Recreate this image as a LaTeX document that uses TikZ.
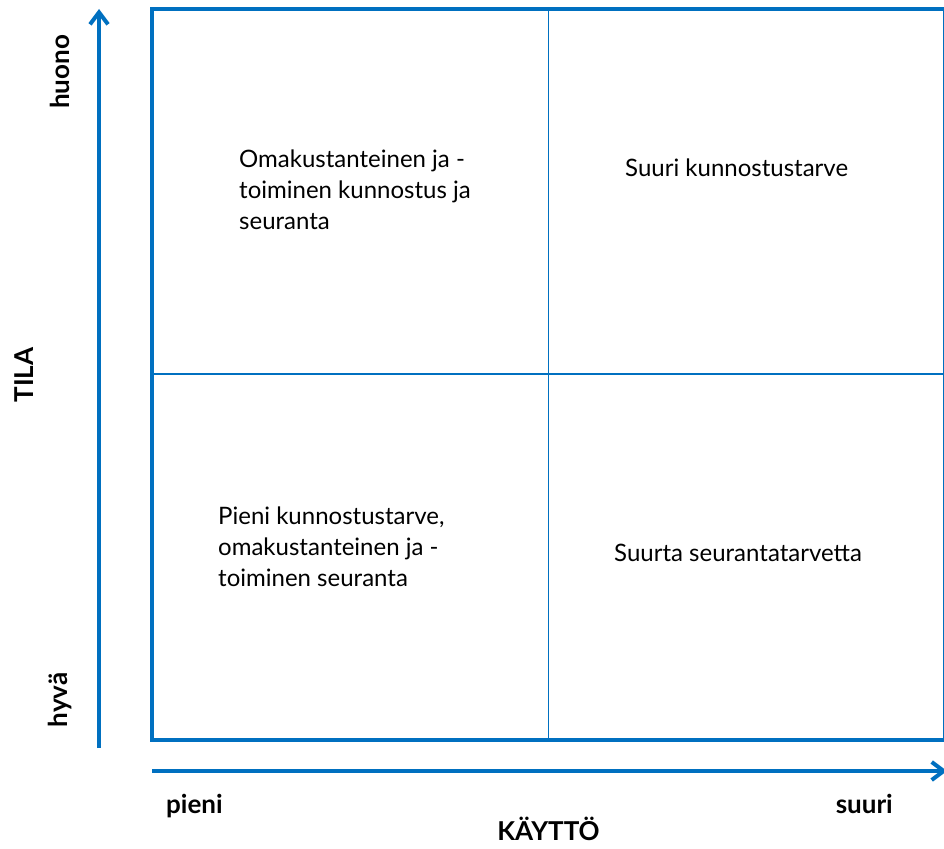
\documentclass[tikz,border=0pt]{standalone}
\usepackage{fontspec}
\setmainfont{Lato}
\usetikzlibrary{arrows.meta}
\definecolor{axisblue}{RGB}{0,112,192}
\begin{document}
\begin{tikzpicture}[x=1pt,y=-1pt,
  frame/.style={draw=axisblue, line width=4pt},
  divider/.style={draw=axisblue, line width=1.5pt},
  axis/.style={draw=axisblue, line width=4pt, -{Straight Barb[length=12pt,width=18pt]}},
  quad/.style={anchor=base west, inner sep=0pt, align=left, font=\fontsize{24}{31}\selectfont},
  lbl/.style={inner sep=0pt, font=\fontsize{26}{30}\selectfont\bfseries}]
\useasboundingbox (0,0) rectangle (944,848);
% frame and dividers
\draw[frame] (152,9) rectangle (945,740);
\coordinate (vtop) at (548.5,9);
\coordinate (vbot) at (548.5,740);
\coordinate (hleft) at (152,374);
\coordinate (hright) at (945,374);
\draw[divider] (vtop) -- (vbot);
\draw[divider] (hleft) -- (hright);
% axes
\coordinate (yfrom) at (99,748);
\coordinate (yto) at (99,9);
\coordinate (xfrom) at (152,771);
\coordinate (xto) at (947,771);
\draw[axis] (yfrom) -- (yto);
\draw[axis] (xfrom) -- (xto);
% axis labels
\node[lbl, rotate=90] (huono) at (60,72) {huono};
\node[lbl, rotate=90] (hyva) at (60,700) {hyvä};
\node[lbl, rotate=90] (tila) at (24,375) {TILA};
\node[lbl, anchor=base west] (pieni) at (166,813) {pieni};
\node[lbl, anchor=base east] (suuri) at (893,813) {suuri};
\node[lbl, anchor=base] (kaytto) at (548.5,840) {KÄYTTÖ};
% quadrant texts (base anchor = last line)
\node[quad] (q1) at (239,229) {Omakustanteinen ja -\\toiminen kunnostus ja\\seuranta};
\node[quad] (q2) at (625,176) {Suuri kunnostustarve};
\node[quad] (q3) at (218,586) {Pieni kunnostustarve,\\omakustanteinen ja -\\toiminen seuranta};
\node[quad] (q4) at (614,561) {Suurta seurantatarvetta};
\end{tikzpicture}
\end{document}
